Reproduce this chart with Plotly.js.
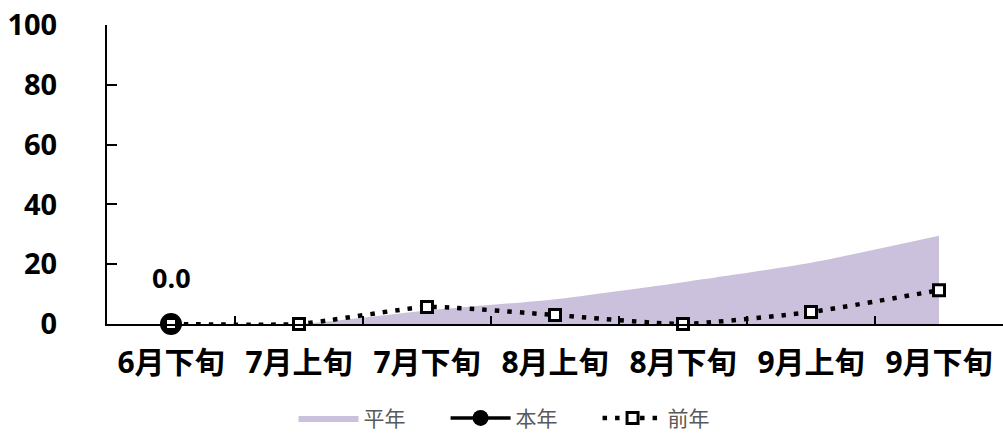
<!DOCTYPE html>
<html>
<head>
<meta charset="utf-8">
<script src="https://cdn.plot.ly/plotly-3.0.1.min.js"></script>
<style>
  html, body { margin: 0; padding: 0; background: #fff; }
  #chart { width: 1003px; height: 438px; }
</style>
</head>
<body>
<div id="chart"></div>
<script>
// Ten-day periods (旬) along the x axis
const periods = ['6月下旬', '7月上旬', '7月下旬', '8月上旬', '8月下旬', '9月上旬', '9月下旬'];

// 平年 (normal year) – shaded area
const normalYear = [0, 0, 4.5, 8.3, 14, 20.5, 29.5];
// 本年 (this year) – only the first period reported so far
const thisYear = [0.0];
const thisYearPeriods = periods.slice(0, thisYear.length);
// 前年 (previous year)
const lastYear = [0, 0, 5.7, 3, 0, 4, 11.3];

const yTicks = [0, 20, 40, 60, 80, 100];

const latinCjk = 'Open Sans, Noto Sans CJK SC, sans-serif';

const traces = [
  {
    name: '平年',
    x: periods,
    y: normalYear,
    type: 'scatter',
    mode: 'lines',
    line: { width: 0, shape: 'spline', smoothing: 0.6, color: '#cbc1dc' },
    fill: 'tozeroy',
    fillcolor: '#cbc1dc',
    hoverinfo: 'skip'
  },
  {
    name: '本年',
    x: thisYearPeriods,
    y: thisYear,
    type: 'scatter',
    mode: 'lines+markers',
    cliponaxis: false,
    line: { color: '#000', width: 3.5 },
    marker: { symbol: 'circle', size: 22, color: '#000' }
  },
  {
    name: '前年',
    x: periods,
    y: lastYear,
    type: 'scatter',
    mode: 'lines+markers',
    cliponaxis: false,
    line: { color: '#000', width: 4.5, dash: '4.5px,8px', shape: 'spline', smoothing: 0.5 },
    marker: { symbol: 'square', size: 11, color: '#fff', line: { color: '#000', width: 3 } }
  }
];

// value label for the reported 本年 point
const annotations = thisYear.map((v, i) => ({
  x: thisYearPeriods[i],
  y: v,
  xref: 'x',
  yref: 'y',
  text: v.toFixed(1),
  showarrow: false,
  yshift: 47,
  font: { family: latinCjk, size: 27, color: '#000', weight: 'bold' }
}));

const layout = {
  width: 1003,
  height: 438,
  margin: { l: 107, r: 0, t: 25, b: 114 },
  paper_bgcolor: '#fff',
  plot_bgcolor: '#fff',
  showlegend: true,
  legend: {
    orientation: 'h',
    xref: 'container',
    yref: 'container',
    x: 0.52,
    xanchor: 'center',
    y: 0.045,
    yanchor: 'middle',
    itemwidth: 60,
    entrywidth: 77,
    font: { family: 'Noto Sans CJK SC, sans-serif', size: 21, color: '#595959' },
    traceorder: 'normal'
  },
  xaxis: {
    type: 'category',
    categoryorder: 'array',
    categoryarray: periods,
    range: [-0.5, periods.length - 0.5],
    showline: true,
    linecolor: '#000',
    linewidth: 2,
    ticks: 'inside',
    tickson: 'boundaries',
    ticklen: 8,
    tickwidth: 2,
    tickcolor: '#000',
    showgrid: false,
    zeroline: false,
    ticklabelstandoff: 11,
    tickfont: { family: latinCjk, size: 30, color: '#000', weight: 'bold' },
    fixedrange: true
  },
  yaxis: {
    range: [0, 100],
    tickvals: yTicks,
    ticktext: yTicks.map(String),
    showline: true,
    linecolor: '#000',
    linewidth: 2,
    ticks: 'inside',
    ticklen: 10,
    tickwidth: 2,
    tickcolor: '#000',
    showgrid: false,
    zeroline: false,
    ticklabelstandoff: 42,
    tickfont: { family: latinCjk, size: 29, color: '#000', weight: 'bold' },
    fixedrange: true
  },
  annotations: annotations
};

Plotly.newPlot('chart', traces, layout, { displayModeBar: false, staticPlot: true });
</script>
</body>
</html>
